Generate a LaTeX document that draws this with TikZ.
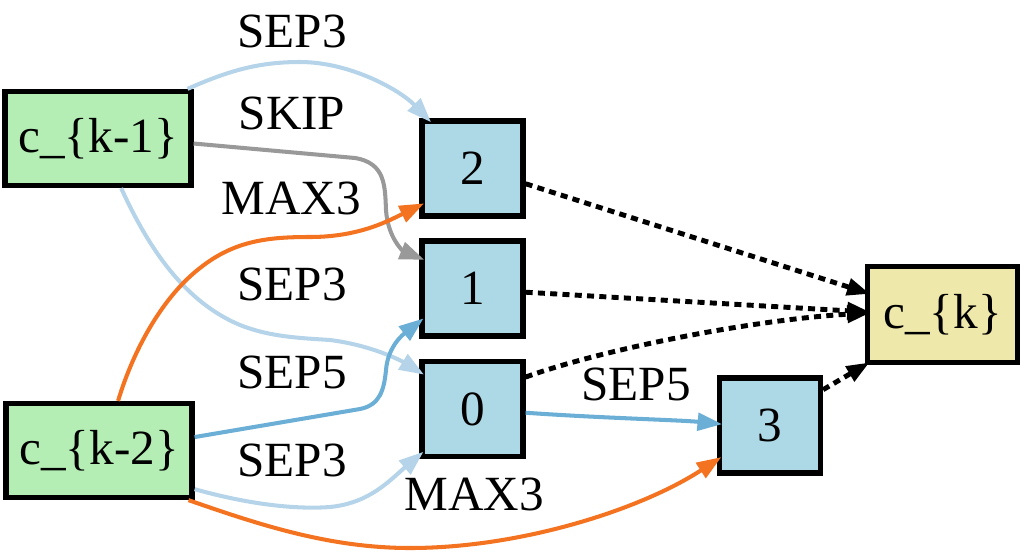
\documentclass[tikz,border=0pt]{standalone}
\usepackage{fontspec}
\setmainfont{Liberation Serif}
\usepackage{xcolor}
\usepackage{tikz}
\usetikzlibrary{arrows.meta}

\definecolor{cellgreen}{HTML}{B4EEB4}
\definecolor{opblue}{HTML}{ADD8E6}
\definecolor{outyellow}{HTML}{EEE8AA}
\definecolor{septhree}{HTML}{B5D4E9}
\definecolor{sepfive}{HTML}{6BAED6}
\definecolor{maxthree}{HTML}{F37321}
\definecolor{skipgray}{HTML}{999999}

\begin{document}
\begin{tikzpicture}[
    x=0.02cm, y=-0.02cm,
    cellnode/.style={rectangle, draw, line width=3pt, inner sep=0pt, fill=cellgreen, minimum width=3.72cm, minimum height=1.88cm, font=\fontsize{28}{32}\selectfont},
    opnode/.style={cellnode, fill=opblue, minimum width=2.02cm, minimum height=1.9cm},
    outnode/.style={cellnode, fill=outyellow, minimum width=3.0cm, minimum height=1.92cm},
    oparr/.style={-{Triangle[length=14pt, width=10pt]}, line width=2.3pt, shorten >=-3pt},
    sumarr/.style={-{Triangle[length=13pt, width=9.5pt]}, line width=2.8pt, dash pattern=on 4pt off 3pt, shorten >=-3pt},
    oplabel/.style={inner sep=0pt, font=\fontsize{28}{32}\selectfont},
]
\useasboundingbox (0,0) rectangle (1024,555);

% input cells
\node[cellnode] (km1) at (98,138.5) {c\_\{k-1\}};
\node[cellnode] (km2) at (99,450.5) {c\_\{k-2\}};

% intermediate nodes
\node[opnode] (n2) at (472.5,168.5) {2};
\node[opnode] (n1) at (472.5,288.5) {1};
\node[opnode] (n0) at (472.5,409) {0};
\node[opnode] (n3) at (770,425.5) {3};

% output cell
\node[outnode] (ck) at (942.5,314.5) {c\_\{k\}};

% operation labels
\node[oplabel] (l1) at (292,31) {SEP3};
\node[oplabel] (l2) at (292,113) {SKIP};
\node[oplabel] (l3) at (291,198) {MAX3};
\node[oplabel] (l4) at (292,284) {SEP3};
\node[oplabel] (l5) at (292,372) {SEP5};
\node[oplabel] (l6) at (292,460) {SEP3};
\node[oplabel] (l7) at (474,494) {MAX3};
\node[oplabel] (l8) at (636,384) {SEP5};

% edges from c_{k-1}
\draw[oparr, septhree] (km1.29) .. controls (230,70) and (260,62) .. (300,62)
    .. controls (350,62) and (400,90) .. (n2.132);
\draw[oparr, skipgray] (km1.-3) -- (355,158) .. controls (385,163) and (385,185) .. (386,210)
    .. controls (388,240) and (405,252) .. (n1.150);
\draw[oparr, septhree] (km1.-65) .. controls (145,240) and (180,300) .. (240,325)
    .. controls (270,337) and (300,338) .. (330,340)
    .. controls (370,345) and (400,360) .. (n0.145);

% edges from c_{k-2}
\draw[oparr, maxthree] (km2.69) .. controls (135,345) and (165,295) .. (200,268)
    .. controls (235,240) and (270,237) .. (310,237)
    .. controls (360,237) and (390,220) .. (n2.215);
\draw[oparr, sepfive] (km2.8) -- (360,409) .. controls (380,405) and (384,390) .. (386,370)
    .. controls (388,345) and (405,333) .. (n1.212);
\draw[oparr, septhree] (km2.-22) .. controls (240,502) and (290,510) .. (330,507)
    .. controls (370,503) and (390,480) .. (n0.221);
\draw[oparr, maxthree] (km2.-29) .. controls (260,525) and (330,548) .. (410,548)
    .. controls (520,548) and (640,510) .. (n3.213);

% node 0 to node 3
\draw[oparr, sepfive] (n0.-4) .. controls (600,418) and (680,420) .. (n3.178);

% sum into c_{k}
\draw[sumarr] (n2.-16) -- (ck.164);
\draw[sumarr] (n1.-4) -- (ck.178);
\draw[sumarr] (n0.31) .. controls (600,350) and (750,320) .. (ck.179);
\draw[sumarr] (n3.34) -- (ck.south west);

\end{tikzpicture}
\end{document}
